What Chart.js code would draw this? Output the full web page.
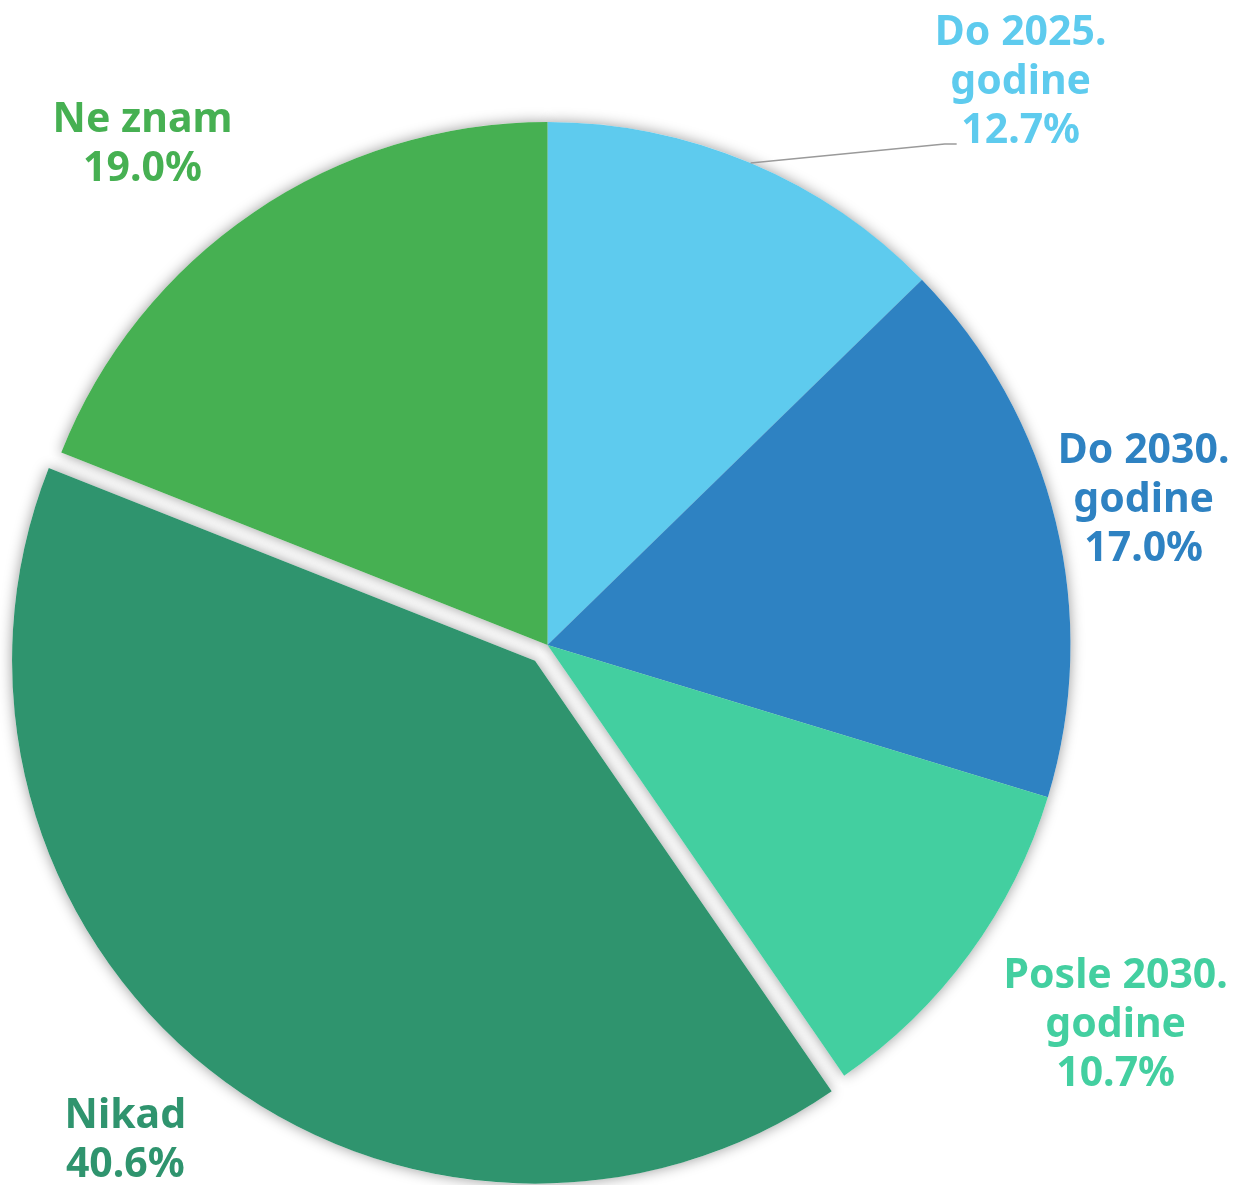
<!DOCTYPE html>
<html>
<head>
<meta charset="utf-8">
<script src="https://cdn.jsdelivr.net/npm/chart.js@4/dist/chart.umd.min.js"></script>
<style>
  html, body { margin: 0; padding: 0; background: #fff; }
  #wrap { width: 1240px; height: 1185px; }
</style>
</head>
<body>
<div id="wrap"><canvas id="pieChart"></canvas></div>
<script>
// podaci
const categories = [["Do 2025.", "godine"], ["Do 2030.", "godine"], ["Posle 2030.", "godine"], ["Nikad"], ["Ne znam"]];
const shares = [12.7, 17.0, 10.7, 40.6, 19.0];
const sliceColors = ["#5ECBEE", "#2E82C2", "#43CFA0", "#2F946E", "#46B052"];

// izvucen isecak (px) i raspored natpisa: pomak od ivice isecka do prve linije teksta
const explode = [0, 0, 0, 20, 0];
const labelShift = [[270, -118], [88, -58], [146, 34], [-84, 58], [-111, -80]];
const lineGap = 49;

const arcGeometry = (el, i) => {
  const { x, y, startAngle, endAngle, outerRadius } = el.getProps(["x", "y", "startAngle", "endAngle", "outerRadius"], true);
  const mid = (startAngle + endAngle) / 2;
  const off = explode[i] || 0;
  return {
    cx: x + Math.cos(mid) * off,
    cy: y + Math.sin(mid) * off,
    dx: Math.cos(mid) * off,
    dy: Math.sin(mid) * off,
    startAngle, endAngle, outerRadius, mid,
  };
};

const shadowPlugin = {
  id: "pieShadow",
  beforeDatasetsDraw(chart) {
    const ctx = chart.ctx;
    const meta = chart.getDatasetMeta(0);

    // pomeri izvuceni isecak
    meta.data.forEach((el, i) => {
      if (!explode[i] || el._exploded) return;
      const origDraw = el.draw;
      el.draw = function (c, area) {
        const g = arcGeometry(this, i);
        c.save();
        c.translate(g.dx, g.dy);
        origDraw.call(this, c, area);
        c.restore();
      };
      el._exploded = true;
    });

    ctx.save();
    ctx.shadowColor = "rgba(0,0,0,0.4)";
    ctx.shadowBlur = 14;
    ctx.fillStyle = "#ffffff";
    meta.data.forEach((el, i) => {
      const g = arcGeometry(el, i);
      ctx.beginPath();
      ctx.moveTo(g.cx, g.cy);
      ctx.arc(g.cx, g.cy, g.outerRadius, g.startAngle, g.endAngle);
      ctx.closePath();
      ctx.fill();
    });
    ctx.restore();
  },
};

const labelPlugin = {
  id: "sliceLabels",
  afterDatasetsDraw(chart) {
    const ctx = chart.ctx;
    const meta = chart.getDatasetMeta(0);
    ctx.save();
    ctx.font = "bold 41px 'Noto Sans'";
    ctx.textAlign = "center";
    ctx.textBaseline = "alphabetic";
    meta.data.forEach((el, i) => {
      const g = arcGeometry(el, i);
      const ex = g.cx + Math.cos(g.mid) * g.outerRadius;
      const ey = g.cy + Math.sin(g.mid) * g.outerRadius;
      const ax = ex + labelShift[i][0];
      const ay = ey + labelShift[i][1];
      const lines = categories[i].concat([shares[i].toFixed(1) + "%"]);

      if (i === 0) {
        // linija vodilja za prvi isecak
        ctx.strokeStyle = "#9a9a9a";
        ctx.lineWidth = 1.5;
        ctx.beginPath();
        ctx.moveTo(ex, ey);
        ctx.lineTo(ax - 76, ay + 99);
        ctx.lineTo(ax - 64, ay + 99);
        ctx.stroke();
      }

      ctx.fillStyle = sliceColors[i];
      lines.forEach((line, k) => {
        ctx.fillText(line, ax, ay + k * lineGap);
      });
    });
    ctx.restore();
  },
};

new Chart(document.getElementById("pieChart"), {
  type: "pie",
  data: {
    labels: categories.map((c) => c.join(" ")),
    datasets: [
      {
        data: shares,
        backgroundColor: sliceColors,
        borderWidth: 0,
        radius: 523,
      },
    ],
  },
  options: {
    responsive: true,
    maintainAspectRatio: false,
    animation: false,
    layout: { padding: { left: 0, right: 145, top: 105, bottom: 0 } },
    plugins: {
      legend: { display: false },
      tooltip: { enabled: false },
    },
  },
  plugins: [shadowPlugin, labelPlugin],
});
</script>
</body>
</html>
